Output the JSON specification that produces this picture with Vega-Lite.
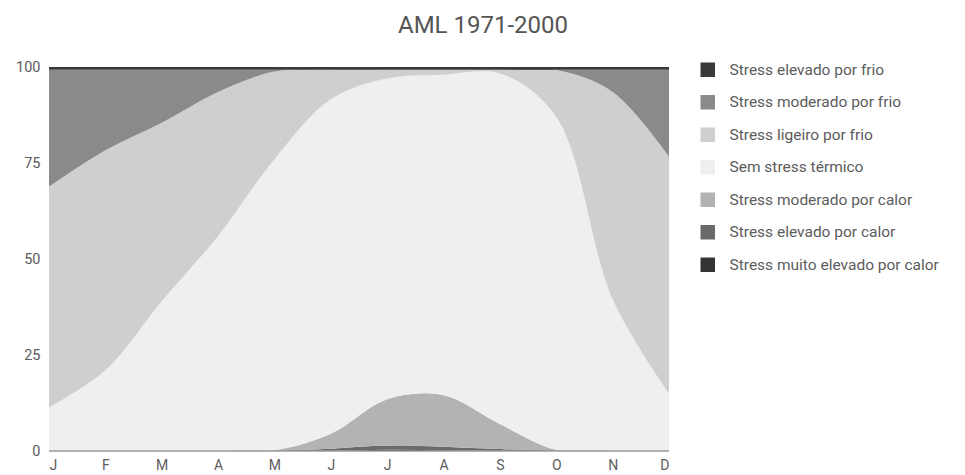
{
  "$schema": "https://vega.github.io/schema/vega-lite/v6.json",
  "width": 620,
  "height": 384,
  "autosize": {"type": "none"},
  "padding": {"left": 49, "top": 67, "right": 296, "bottom": 24},
  "background": "white",
  "config": {"view": {"stroke": null}, "font": "Roboto"},
  "title": {"text": "AML 1971-2000", "frame": "group", "anchor": "middle", "dx": 124, "offset": 21, "fontSize": 24, "font": "Roboto", "fontWeight": "normal", "color": "#555"},
  "datasets": {
    "ordem": [
      {"cat": "Stress muito elevado por calor", "k": 1},
      {"cat": "Stress elevado por calor", "k": 2},
      {"cat": "Stress moderado por calor", "k": 3},
      {"cat": "Sem stress térmico", "k": 4},
      {"cat": "Stress ligeiro por frio", "k": 5},
      {"cat": "Stress moderado por frio", "k": 6},
      {"cat": "Stress elevado por frio", "k": 7}
    ],
    "meses": [
      {"m": 0, "Stress muito elevado por calor": 0, "Stress elevado por calor": 0, "Stress moderado por calor": 0, "Sem stress térmico": 11.3, "Stress ligeiro por frio": 57.5, "Stress moderado por frio": 30.5, "Stress elevado por frio": 0.7},
      {"m": 1, "Stress muito elevado por calor": 0, "Stress elevado por calor": 0, "Stress moderado por calor": 0, "Sem stress térmico": 21, "Stress ligeiro por frio": 57.3, "Stress moderado por frio": 21, "Stress elevado por frio": 0.7},
      {"m": 2, "Stress muito elevado por calor": 0, "Stress elevado por calor": 0, "Stress moderado por calor": 0, "Sem stress térmico": 39, "Stress ligeiro por frio": 46.5, "Stress moderado por frio": 13.8, "Stress elevado por frio": 0.7},
      {"m": 3, "Stress muito elevado por calor": 0, "Stress elevado por calor": 0, "Stress moderado por calor": 0, "Sem stress térmico": 56, "Stress ligeiro por frio": 37.5, "Stress moderado por frio": 5.8, "Stress elevado por frio": 0.7},
      {"m": 4, "Stress muito elevado por calor": 0, "Stress elevado por calor": 0.1, "Stress moderado por calor": 0.1, "Sem stress térmico": 75.8, "Stress ligeiro por frio": 22.8, "Stress moderado por frio": 0.5, "Stress elevado por frio": 0.7},
      {"m": 5, "Stress muito elevado por calor": 0, "Stress elevado por calor": 0.6, "Stress moderado por calor": 3.9, "Sem stress térmico": 87.1, "Stress ligeiro por frio": 7.7, "Stress moderado por frio": 0, "Stress elevado por frio": 0.7},
      {"m": 6, "Stress muito elevado por calor": 0.3, "Stress elevado por calor": 1.1, "Stress moderado por calor": 12.1, "Sem stress térmico": 83.5, "Stress ligeiro por frio": 2.3, "Stress moderado por frio": 0, "Stress elevado por frio": 0.7},
      {"m": 7, "Stress muito elevado por calor": 0.2, "Stress elevado por calor": 0.9, "Stress moderado por calor": 13.4, "Sem stress térmico": 83.5, "Stress ligeiro por frio": 1.3, "Stress moderado por frio": 0, "Stress elevado por frio": 0.7},
      {"m": 8, "Stress muito elevado por calor": 0, "Stress elevado por calor": 0.5, "Stress moderado por calor": 6.5, "Sem stress térmico": 91.3, "Stress ligeiro por frio": 1.0, "Stress moderado por frio": 0, "Stress elevado por frio": 0.7},
      {"m": 9, "Stress muito elevado por calor": 0, "Stress elevado por calor": 0.1, "Stress moderado por calor": 0.2, "Sem stress térmico": 86.7, "Stress ligeiro por frio": 12.2, "Stress moderado por frio": 0.1, "Stress elevado por frio": 0.7},
      {"m": 10, "Stress muito elevado por calor": 0, "Stress elevado por calor": 0, "Stress moderado por calor": 0, "Sem stress térmico": 39.5, "Stress ligeiro por frio": 54, "Stress moderado por frio": 5.8, "Stress elevado por frio": 0.7},
      {"m": 11, "Stress muito elevado por calor": 0, "Stress elevado por calor": 0, "Stress moderado por calor": 0, "Sem stress térmico": 15, "Stress ligeiro por frio": 61.7, "Stress moderado por frio": 22.6, "Stress elevado por frio": 0.7}
    ]
  },
  "layer": [
    {
      "data": {"name": "meses"},
      "transform": [
        {"fold": ["Stress muito elevado por calor", "Stress elevado por calor", "Stress moderado por calor", "Sem stress térmico", "Stress ligeiro por frio", "Stress moderado por frio", "Stress elevado por frio"], "as": ["cat", "v"]},
        {"lookup": "cat", "from": {"data": {"name": "ordem"}, "key": "cat", "fields": ["k"]}}
      ],
      "mark": {"type": "area", "interpolate": "catmull-rom"},
      "encoding": {
        "x": {
          "field": "m", "type": "quantitative",
          "scale": {"domain": [0, 11], "nice": false, "zero": false},
          "axis": {"values": [0,1,2,3,4,5,6,7,8,9,10,11], "labelExpr": "['J','F','M','A','M','J','J','A','S','O','N','D'][datum.value]", "title": null, "domain": false, "ticks": false, "grid": false, "labelPadding": 7, "labelFontSize": 14, "labelColor": "#5c5c5c", "labelFont": "Roboto"}
        },
        "y": {
          "field": "v", "type": "quantitative", "stack": "zero",
          "scale": {"domain": [0, 100], "nice": false},
          "axis": {"values": [0, 25, 50, 75, 100], "title": null, "domain": false, "ticks": false, "grid": false, "labelPadding": 9, "labelFontSize": 14.5, "labelColor": "#5c5c5c", "labelFont": "Roboto"}
        },
        "color": {
          "field": "cat", "type": "nominal",
          "scale": {
            "domain": ["Stress elevado por frio", "Stress moderado por frio", "Stress ligeiro por frio", "Sem stress térmico", "Stress moderado por calor", "Stress elevado por calor", "Stress muito elevado por calor"],
            "range": ["#3a3a3a", "#8a8a8a", "#cfcfcf", "#efefef", "#b3b3b3", "#6a6a6a", "#333333"]
          },
          "legend": {"orient": "none", "legendX": 651, "legendY": -5, "title": null, "symbolType": "square", "symbolSize": 210, "symbolStrokeWidth": 0, "symbolOpacity": 1, "labelFontSize": 15.5, "labelFont": "Roboto", "labelColor": "#5c5c5c", "labelOffset": 14, "rowPadding": 15.5, "labelLimit": 300}
        },
        "order": {"field": "k", "type": "quantitative", "sort": "ascending"}
      }
    },
    {
      "data": {"values": [{}]},
      "mark": {"type": "rule", "color": "#9a9a9a", "strokeWidth": 1.5},
      "encoding": {"y": {"datum": 0}}
    }
  ]
}
